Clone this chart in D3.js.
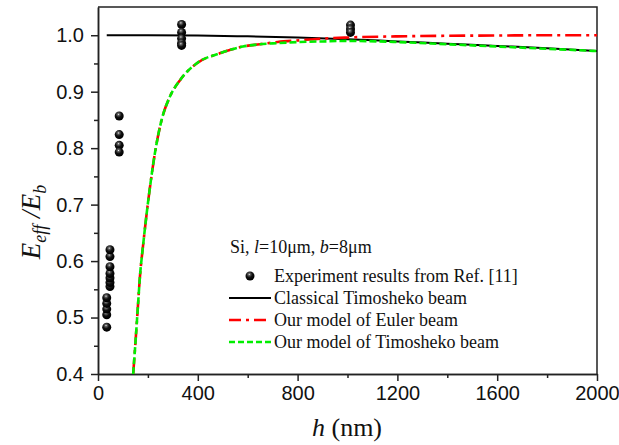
<!DOCTYPE html>
<html><head><meta charset="utf-8">
<script src="https://cdn.jsdelivr.net/npm/d3@7"></script>
<style>body{margin:0;background:#fff}svg{display:block}</style>
</head><body>
<svg id="c" width="619" height="445"></svg>
<script>
// ---- data ----
const xTicks = [0, 400, 800, 1200, 1600, 2000];
const xMinor = [200, 600, 1000, 1400, 1800];
const yTicks = [0.4, 0.5, 0.6, 0.7, 0.8, 0.9, 1.0];
const yMinor = [0.45, 0.55, 0.65, 0.75, 0.85, 0.95];

const hExp = [35, 35, 35, 35, 35, 48, 48, 48, 48, 48, 48, 48, 85, 85, 85, 85, 335, 335, 335, 335, 335, 1012, 1012, 1012];
const eExp = [0.483, 0.505, 0.515, 0.525, 0.535, 0.555, 0.562, 0.570, 0.578, 0.590, 0.608, 0.620,
              0.857, 0.824, 0.805, 0.793, 1.019, 1.005, 0.994, 0.986, 0.982, 1.018, 1.011, 1.005];

const hClassical = [35, 200, 400, 600, 800, 1000, 1200, 1400, 1600, 1800, 2000];
const eClassical = [1.0, 1.0, 0.9995, 0.998, 0.996, 0.993, 0.989, 0.985, 0.981, 0.977, 0.972];

const hModel = [141, 150, 160, 168, 180, 195, 212, 228, 255, 288, 328, 395, 488, 581, 648, 720, 808, 900, 1000, 1200, 1400, 1600, 1800, 2000];
const eEuler = [0.4, 0.455, 0.52, 0.572, 0.625, 0.684, 0.743, 0.791, 0.850, 0.891, 0.920, 0.950, 0.968, 0.980, 0.984, 0.988, 0.991, 0.994, 0.996, 0.998, 0.999, 0.9995, 1.0, 1.0];
const eTimo  = [0.4, 0.455, 0.52, 0.572, 0.625, 0.684, 0.743, 0.791, 0.850, 0.891, 0.920, 0.950, 0.968, 0.980, 0.984, 0.986, 0.988, 0.989, 0.990, 0.988, 0.984, 0.980, 0.976, 0.972];

const legendLabels = ["Experiment results from Ref. [11]", "Classical Timosheko beam", "Our model of Euler beam", "Our model of Timosheko beam"];

// ---- layout ----
const svg = d3.select("#c");
const L = 98, R = 597, T = 7, B = 374;
const x = d3.scaleLinear().domain([0, 2000]).range([L, R]);
const y = d3.scaleLinear().domain([0.4, 1.05]).range([B, T]);

const defs = svg.append("defs");
const g = defs.append("radialGradient").attr("id", "ball").attr("cx", "42%").attr("cy", "32%").attr("r", "60%");
g.append("stop").attr("offset", "0%").attr("stop-color", "#f0f0f0");
g.append("stop").attr("offset", "18%").attr("stop-color", "#666");
g.append("stop").attr("offset", "55%").attr("stop-color", "#111");
g.append("stop").attr("offset", "100%").attr("stop-color", "#000");
defs.append("clipPath").attr("id", "clip").append("rect").attr("x", L).attr("y", T).attr("width", R - L).attr("height", B - T);

const tickFont = "'Liberation Sans', Arial, sans-serif";
const serif = "'Liberation Serif', 'Times New Roman', serif";

// axes
const xAxis = d3.axisBottom(x).tickValues(xTicks).tickSize(7).tickSizeOuter(0).tickPadding(5).tickFormat(d3.format("d"));
const xAxisMinor = d3.axisBottom(x).tickValues(xMinor).tickSize(4).tickSizeOuter(0).tickFormat("");
const yAxis = d3.axisLeft(y).tickValues(yTicks).tickSize(7).tickSizeOuter(0).tickPadding(7).tickFormat(d3.format(".1f"));
const yAxisMinor = d3.axisLeft(y).tickValues(yMinor).tickSize(4).tickSizeOuter(0).tickFormat("");

function style(sel) {
  sel.selectAll("path,line").attr("stroke", "#222").attr("stroke-width", 1.5);
  sel.selectAll("text").attr("font-family", tickFont).attr("font-size", 20).attr("fill", "#111");
}
svg.append("g").attr("transform", `translate(0,${B})`).call(xAxisMinor).call(style);
svg.append("g").attr("transform", `translate(0,${B})`).call(xAxis).call(style);
svg.append("g").attr("transform", `translate(${L},0)`).call(yAxisMinor).call(style);
svg.append("g").attr("transform", `translate(${L},0)`).call(yAxis).call(style);
// top/right frame
svg.append("path").attr("d", `M${L},${T}H${R}V${B}`).attr("fill", "none").attr("stroke", "#222").attr("stroke-width", 1.5);

// lines
const plot = svg.append("g").attr("clip-path", "url(#clip)");
const line = d3.line().x(d => x(d[0])).y(d => y(d[1])).curve(d3.curveMonotoneX);
plot.append("path").datum(hClassical.map((h, i) => [h, eClassical[i]]))
  .attr("d", line).attr("fill", "none").attr("stroke", "#000").attr("stroke-width", 2);
plot.append("path").datum(hModel.map((h, i) => [h, eEuler[i]]))
  .attr("d", line).attr("fill", "none").attr("stroke", "#ff0000").attr("stroke-width", 2.6).attr("stroke-dasharray", "16,5,3,5");
plot.append("path").datum(hModel.map((h, i) => [h, eTimo[i]]))
  .attr("d", line).attr("fill", "none").attr("stroke", "#00ee00").attr("stroke-width", 2.6).attr("stroke-dasharray", "7,3");

// points
svg.append("g").selectAll("circle").data(hExp.map((h, i) => [h, eExp[i]])).join("circle")
  .attr("cx", d => x(d[0])).attr("cy", d => y(d[1])).attr("r", 4.5).attr("fill", "url(#ball)");

// legend
const lg = svg.append("g").attr("font-family", serif).attr("font-size", 18).attr("fill", "#111");
const t0 = lg.append("text").attr("x", 230).attr("y", 253);
t0.append("tspan").text("Si, ");
t0.append("tspan").attr("font-style", "italic").text("l");
t0.append("tspan").text("=10\u03bcm, ");
t0.append("tspan").attr("font-style", "italic").text("b");
t0.append("tspan").text("=8\u03bcm");
const rows = [276, 298, 320, 342];
lg.append("circle").attr("cx", 250).attr("cy", rows[0]).attr("r", 4.5).attr("fill", "url(#ball)");
lg.append("line").attr("x1", 229).attr("x2", 271).attr("y1", rows[1]).attr("y2", rows[1]).attr("stroke", "#000").attr("stroke-width", 2);
lg.append("line").attr("x1", 229).attr("x2", 271).attr("y1", rows[2]).attr("y2", rows[2]).attr("stroke", "#ff0000").attr("stroke-width", 2.6).attr("stroke-dasharray", "12,5,3,5");
lg.append("line").attr("x1", 229).attr("x2", 271).attr("y1", rows[3]).attr("y2", rows[3]).attr("stroke", "#00ee00").attr("stroke-width", 2.6).attr("stroke-dasharray", "6,3");
legendLabels.forEach((t, i) => {
  lg.append("text").attr("x", 274).attr("y", rows[i] + 6).text(t);
});

// axis titles
const xt = svg.append("text").attr("x", 347).attr("y", 436).attr("text-anchor", "middle")
  .attr("font-family", serif).attr("font-size", 26).attr("fill", "#111");
xt.append("tspan").attr("font-style", "italic").text("h");
xt.append("tspan").text(" (nm)");

const yt = svg.append("text").attr("transform", "rotate(-90)").attr("x", -222).attr("y", 40)
  .attr("text-anchor", "middle").attr("font-family", serif).attr("font-size", 27).attr("font-style", "italic").attr("fill", "#111");
yt.append("tspan").text("E");
yt.append("tspan").attr("font-size", 18).attr("dy", 6).text("eff");
yt.append("tspan").attr("dy", -6).text(" /");
yt.append("tspan").text("E");
yt.append("tspan").attr("font-size", 18).attr("dy", 6).text("b");
</script>
</body></html>
